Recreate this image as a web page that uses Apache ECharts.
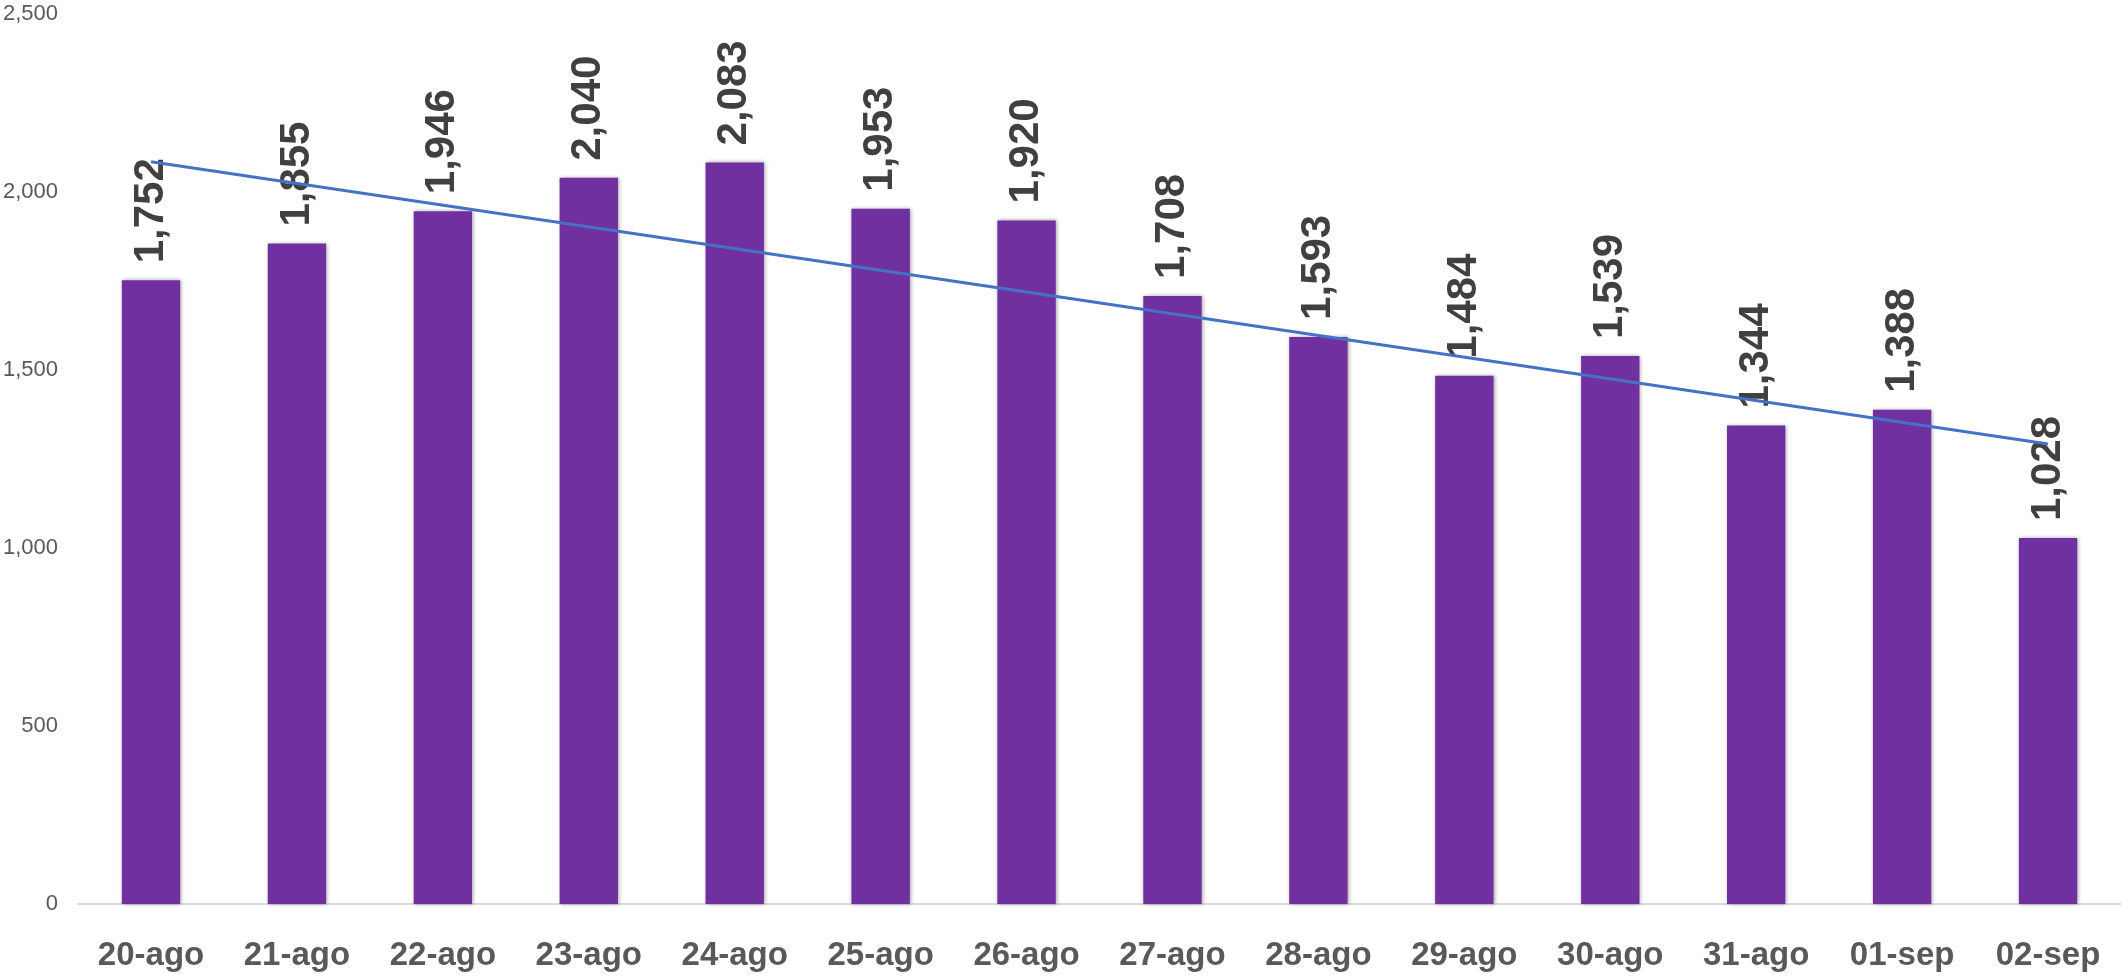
<!DOCTYPE html>
<html>
<head>
<meta charset="utf-8">
<script src="https://cdn.jsdelivr.net/npm/echarts@6/dist/echarts.min.js"></script>
<style>html,body{margin:0;padding:0;background:#fff}#c{width:2121px;height:976px}</style>
</head>
<body>
<div id="c"></div>
<script>
const categories = ['20-ago','21-ago','22-ago','23-ago','24-ago','25-ago','26-ago','27-ago','28-ago','29-ago','30-ago','31-ago','01-sep','02-sep'];
const values = [1752,1855,1946,2040,2083,1953,1920,1708,1593,1484,1539,1344,1388,1028];
const trendStart = 2085;
const trendEnd = 1292;
const yTicks = [0,500,1000,1500,2000,2500];

const chart = echarts.init(document.getElementById('c'));
chart.setOption({
  animation: false,
  grid: {left: 76, right: 0, top: 14, bottom: 72, containLabel: false},
  xAxis: {
    type: 'category', data: categories,
    axisLine: {lineStyle: {color: '#d9d9d9', width: 2}},
    axisTick: {show: false},
    axisLabel: {color: '#595959', fontFamily: 'Liberation Sans', fontWeight: 'bold', fontSize: 33, margin: 35}
  },
  yAxis: {
    type: 'value', min: yTicks[0], max: yTicks[yTicks.length-1], interval: 500,
    axisLine: {show: false}, axisTick: {show: false}, splitLine: {show: false},
    axisLabel: {color: '#595959', fontFamily: 'Liberation Sans', fontSize: 22, margin: 20,
      formatter: v => v.toLocaleString('en-US')}
  },
  series: [{
    type: 'bar', data: values, barWidth: '40%',
    itemStyle: {color: '#7030a0', shadowBlur: 4, shadowColor: 'rgba(0,0,0,0.35)', shadowOffsetX: 1, shadowOffsetY: 0},
    label: {show: true, position: 'top', rotate: 90, align: 'left', verticalAlign: 'middle', distance: 17,
      color: '#404040', fontFamily: 'Liberation Sans', fontWeight: 'bold', fontSize: 42,
      formatter: p => p.value.toLocaleString('en-US')},
    markLine: {
      silent: true, symbol: 'none', label: {show: false},
      lineStyle: {color: '#4472c4', width: 3, type: 'solid'},
      data: [[{coord: [categories[0], trendStart]}, {coord: [categories[categories.length-1], trendEnd]}]]
    }
  }]
});
</script>
</body>
</html>
